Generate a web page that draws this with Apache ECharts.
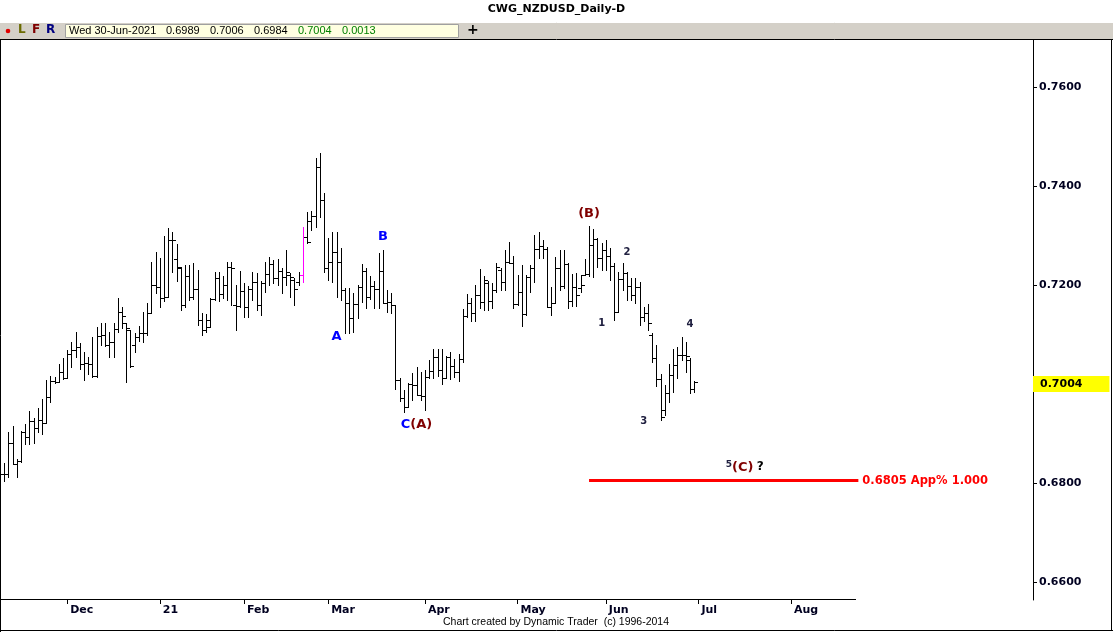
<!DOCTYPE html>
<html>
<head>
<meta charset="utf-8">
<script src="https://cdn.jsdelivr.net/npm/echarts@6.0.0/dist/echarts.min.js"></script>
<style>
html,body{margin:0;padding:0;background:#fff;}
#chart{width:1113px;height:632px;}
</style>
</head>
<body>
<div id="chart"></div>
<script>
// ---------------- DATA ----------------
const firstDate = '2020-11-10';
const holidays = ['2020-12-25', '2021-01-01'];
const totalSlots = 245; // trading-day slots shown on the time axis (incl. empty future)

const opens = [
.6819,.6819,.6881,.6839,.6845,.6903,.6893,.6925,.6911,.6927,
.6921,.6974,.7006,.7004,.7025,.7013,.7061,.7069,.7075,.7041,
.7043,.7041,.7017,.7097,.7099,.7079,.7085,.7111,.7146,.7123,
.7109,.7079,.7095,.7103,.7103,.7144,.7200,.7196,.7174,.7176,
.7291,.7253,.7234,.7160,.7218,.7176,.7192,.7129,.7109,.7129,
.7172,.7214,.7182,.7200,.7236,.7160,.7158,.7188,.7156,.7192,
.7206,.7160,.7204,.7222,.7242,.7214,.7228,.7216,.7220,.7210,
.7206,.7220,.7297,.7329,.7339,.7438,.7372,.7234,.7246,.7267,
.7246,.7190,.7164,.7133,.7162,.7196,.7228,.7176,.7198,.7192,
.7228,.7164,.7166,.7160,.7008,.6972,.6954,.7000,.6998,.6978,
.6976,.7015,.7027,.7055,.7029,.7013,.7055,.7037,.7025,.7051,
.7137,.7164,.7144,.7180,.7166,.7204,.7168,.7190,.7230,.7206,
.7246,.7244,.7162,.7186,.7142,.7216,.7234,.7273,.7279,.7273,
.7156,.7164,.7234,.7198,.7242,.7168,.7196,.7194,.7220,.7222,
.7281,.7293,.7255,.7271,.7259,.7238,.7146,.7212,.7224,.7198,
.7180,.7196,.7135,.7144,.7099,.7053,.7011,.6948,.6982,.7019,
.7039,.7059,.7059,.7049,.6989
];
const highs = [
.6841,.6903,.6915,.6849,.6905,.6919,.6946,.6931,.6952,.6970,
.7008,.7017,.7015,.7041,.7053,.7069,.7085,.7105,.7083,.7065,
.7055,.7095,.7115,.7123,.7123,.7105,.7123,.7174,.7156,.7123,
.7109,.7103,.7117,.7146,.7164,.7246,.7267,.7255,.7299,.7315,
.7307,.7283,.7236,.7240,.7240,.7244,.7230,.7144,.7142,.7174,
.7226,.7226,.7218,.7246,.7246,.7200,.7228,.7204,.7198,.7226,
.7224,.7208,.7246,.7257,.7251,.7253,.7234,.7271,.7224,.7214,
.7226,.7317,.7347,.7349,.7457,.7467,.7386,.7295,.7307,.7307,
.7275,.7194,.7194,.7184,.7200,.7242,.7234,.7218,.7208,.7265,
.7271,.7190,.7184,.7160,.7013,.6988,.7002,.7023,.7035,.7025,
.7029,.7049,.7071,.7071,.7071,.7057,.7065,.7051,.7061,.7152,
.7182,.7174,.7200,.7232,.7218,.7208,.7204,.7244,.7234,.7271,
.7287,.7259,.7220,.7240,.7220,.7240,.7301,.7307,.7291,.7277,
.7196,.7257,.7271,.7271,.7244,.7222,.7224,.7220,.7253,.7319,
.7313,.7295,.7285,.7291,.7275,.7244,.7226,.7244,.7226,.7214,
.7214,.7206,.7156,.7162,.7103,.7079,.7021,.6998,.7041,.7071,
.7075,.7095,.7085,.7053,.7006
];
const lows = [
.6805,.6813,.6839,.6813,.6843,.6879,.6879,.6881,.6903,.6899,
.6921,.6964,.7002,.7004,.7011,.7013,.7035,.7055,.7031,.7008,
.7021,.7015,.7015,.7079,.7077,.7055,.7055,.7105,.7113,.7004,
.7035,.7065,.7087,.7085,.7099,.7144,.7184,.7156,.7168,.7176,
.7226,.7208,.7150,.7156,.7170,.7172,.7119,.7099,.7105,.7115,
.7170,.7168,.7174,.7170,.7160,.7109,.7156,.7135,.7135,.7170,
.7150,.7140,.7186,.7200,.7204,.7200,.7184,.7200,.7176,.7160,
.7200,.7206,.7285,.7311,.7317,.7337,.7226,.7210,.7206,.7176,
.7170,.7103,.7103,.7105,.7133,.7166,.7154,.7172,.7154,.7154,
.7164,.7146,.7144,.6990,.6966,.6944,.6954,.6968,.6978,.6968,
.6948,.7013,.7013,.7017,.7000,.7013,.7011,.7015,.7006,.7045,
.7135,.7127,.7127,.7154,.7150,.7150,.7154,.7186,.7190,.7190,
.7244,.7154,.7160,.7117,.7140,.7186,.7206,.7255,.7255,.7156,
.7140,.7164,.7190,.7194,.7154,.7158,.7158,.7186,.7220,.7218,
.7216,.7236,.7230,.7230,.7210,.7129,.7146,.7190,.7170,.7170,
.7164,.7119,.7127,.7109,.7045,.6996,.6927,.6938,.6964,.6984,
.7013,.7049,.7025,.6982,.6984
];
const closes = [
.6819,.6881,.6839,.6845,.6903,.6893,.6925,.6911,.6927,.6921,
.6974,.7006,.7004,.7025,.7013,.7061,.7069,.7075,.7041,.7043,
.7041,.7017,.7097,.7099,.7079,.7085,.7111,.7146,.7137,.7113,
.7037,.7095,.7103,.7103,.7144,.7200,.7196,.7174,.7176,.7291,
.7291,.7236,.7160,.7218,.7176,.7192,.7129,.7109,.7115,.7172,
.7214,.7182,.7200,.7236,.7234,.7158,.7188,.7156,.7192,.7206,
.7160,.7204,.7222,.7242,.7214,.7228,.7216,.7226,.7216,.7192,
.7220,.7297,.7287,.7339,.7438,.7372,.7234,.7246,.7267,.7246,
.7190,.7164,.7133,.7162,.7196,.7228,.7176,.7198,.7192,.7228,
.7164,.7166,.7160,.7008,.6972,.6954,.7000,.6998,.6978,.6976,
.7015,.7027,.7055,.7029,.7013,.7055,.7037,.7025,.7051,.7137,
.7164,.7144,.7180,.7166,.7210,.7168,.7190,.7236,.7206,.7246,
.7244,.7162,.7186,.7142,.7216,.7234,.7273,.7279,.7273,.7156,
.7164,.7234,.7198,.7242,.7168,.7196,.7180,.7200,.7222,.7281,
.7293,.7255,.7271,.7259,.7238,.7146,.7212,.7224,.7198,.7180,
.7196,.7135,.7144,.7123,.7053,.7011,.6934,.6982,.7019,.7039,
.7059,.7059,.7057,.6990,.7004
];
const highlightedBar = 71; // bar drawn in magenta

const monthLabels = {
  '2020-12': 'Dec', '2021-01': '21', '2021-02': 'Feb', '2021-03': 'Mar',
  '2021-04': 'Apr', '2021-05': 'May', '2021-06': 'Jun', '2021-07': 'Jul', '2021-08': 'Aug'
};
const priceTicks = [0.66, 0.68, 0.70, 0.72, 0.74, 0.76];
const yMin = 0.65636, yMax = 0.76950;

const lastPrice = 0.7004;
const targetPrice = 0.6805;
const targetText = '0.6805 App% 1.000';
const targetFrom = 139, targetTo = 203;

const waveText = ['{b|A}', '{b|B}', '{b|C}{m|(A)}', '{m|(B)}', '{n|1}', '{n|2}', '{n|3}', '{n|4}', '{s|5}{m|(C)} {q|?}'];
const waveIdx = [79, 90, 98, 139, 142, 148, 152, 163, 176];
const wavePrice = [0.7095, 0.7297, 0.6917, 0.7345, 0.7123, 0.7265, 0.6925, 0.7121, 0.6832];

const titleText = 'CWG_NZDUSD_Daily-D';
const infoTexts = ['Wed 30-Jun-2021', '0.6989', '0.7006', '0.6984', '0.7004', '0.0013'];
const footerText = 'Chart created by Dynamic Trader  (c) 1996-2014';

// ---------------- BUILD ----------------
function buildDates() {
  const out = [];
  const p = firstDate.split('-').map(Number);
  const d = new Date(Date.UTC(p[0], p[1] - 1, p[2]));
  while (out.length < totalSlots) {
    const wd = d.getUTCDay();
    const s = d.toISOString().slice(0, 10);
    if (wd !== 0 && wd !== 6 && holidays.indexOf(s) < 0) out.push(s);
    d.setUTCDate(d.getUTCDate() + 1);
  }
  return out;
}
const dates = buildDates();
function isMonthStart(i) {
  if (i <= 0) return false;
  const m = dates[i].slice(0, 7);
  return m !== dates[i - 1].slice(0, 7) && monthLabels[m] !== undefined;
}
const ohlc = opens.map((o, i) => [i, o, highs[i], lows[i], closes[i]]);

const FONT = 'DejaVu Sans';
const chart = echarts.init(document.getElementById('chart'), null, {renderer: 'canvas'});

function renderBar(params, api) {
  const idx = api.value(0);
  const pO = api.coord([idx, api.value(1)]);
  const yH = api.coord([idx, api.value(2)])[1];
  const yL = api.coord([idx, api.value(3)])[1];
  const yC = api.coord([idx, api.value(4)])[1];
  const x = Math.round(pO[0]) + 0.5;
  const r = v => Math.round(v) + 0.5;
  const color = idx === highlightedBar ? '#ff00ff' : '#000000';
  const st = {stroke: color, lineWidth: 1};
  return {
    type: 'group',
    children: [
      {type: 'line', shape: {x1: x, y1: Math.round(yH), x2: x, y2: Math.round(yL) + 1}, style: st},
      {type: 'line', shape: {x1: x - 3.5, y1: r(pO[1]), x2: x, y2: r(pO[1])}, style: st},
      {type: 'line', shape: {x1: x, y1: r(yC), x2: x + 3.5, y2: r(yC)}, style: st}
    ]
  };
}

const infoX = [69, 166, 210, 254, 298, 342];
const infoColors = ['#000', '#000', '#000', '#000', '#008000', '#008000'];

const graphics = [
  {type: 'text', left: 'center', top: 4, style: {text: titleText, font: 'bold 11px "DejaVu Sans"', fill: '#000'}},
  {type: 'rect', shape: {x: 0, y: 22, width: 1113, height: 17}, style: {fill: '#d4d0c8'}},
  {type: 'line', shape: {x1: 0, y1: 22.5, x2: 1113, y2: 22.5}, style: {stroke: '#ffffff'}},
  {type: 'line', shape: {x1: 0, y1: 39.5, x2: 1113, y2: 39.5}, style: {stroke: '#000'}},
  {type: 'circle', shape: {cx: 8, cy: 31, r: 2.3}, style: {fill: '#e00000'}},
  {type: 'text', x: 18, y: 24, style: {text: 'L', font: 'bold 12px "DejaVu Sans"', fill: '#6b6b00'}},
  {type: 'text', x: 32, y: 24, style: {text: 'F', font: 'bold 12px "DejaVu Sans"', fill: '#800000'}},
  {type: 'text', x: 46, y: 24, style: {text: 'R', font: 'bold 12px "DejaVu Sans"', fill: '#000080'}},
  {type: 'rect', shape: {x: 65.5, y: 24.5, width: 393, height: 13}, style: {fill: '#ffffe1', stroke: '#a0a0a0'}},
  {type: 'text', x: 467, y: 23, style: {text: '+', font: 'bold 14px "DejaVu Sans"', fill: '#000'}},
  {type: 'line', shape: {x1: 0, y1: 599.5, x2: 856, y2: 599.5}, style: {stroke: '#000', lineWidth: 1}},
  {type: 'line', shape: {x1: 0.5, y1: 39, x2: 0.5, y2: 632}, style: {stroke: '#000', lineWidth: 1}},
  {type: 'line', shape: {x1: 1111.5, y1: 39, x2: 1111.5, y2: 631}, style: {stroke: '#000', lineWidth: 1}},
  {type: 'line', shape: {x1: 0, y1: 630.5, x2: 1113, y2: 630.5}, style: {stroke: '#000', lineWidth: 1}},
  {type: 'text', x: 556, y: 617, style: {text: footerText, font: '10.5px "Liberation Sans"', fill: '#000', textAlign: 'center'}}
];
infoTexts.forEach((t, i) => {
  graphics.push({type: 'text', x: infoX[i], y: 25, style: {text: t, font: '11px "Liberation Sans"', fill: infoColors[i]}});
});

const option = {
  animation: false,
  backgroundColor: '#ffffff',
  grid: {left: 2, right: 80, top: 40, bottom: 32, containLabel: false},
  xAxis: {
    type: 'category',
    data: dates,
    boundaryGap: true,
    axisLine: {show: false},
    axisTick: {show: true, alignWithLabel: true, interval: (i) => isMonthStart(i), length: 4, lineStyle: {color: '#000', width: 1}},
    axisLabel: {
      interval: (i) => isMonthStart(i),
      formatter: (v) => monthLabels[v.slice(0, 7)] || '',
      align: 'left', padding: [0, 0, 0, 3], margin: 5,
      fontFamily: FONT, fontWeight: 'bold', fontSize: 11, color: '#000020'
    },
    splitLine: {show: false}
  },
  yAxis: {
    type: 'value',
    position: 'right',
    min: yMin, max: yMax,
    axisLine: {show: true, lineStyle: {color: '#000', width: 1}},
    axisTick: {show: true, customValues: priceTicks, length: 4, lineStyle: {color: '#000'}},
    axisLabel: {
      customValues: priceTicks,
      formatter: (v) => v.toFixed(4),
      margin: 6, fontFamily: FONT, fontWeight: 'bold', fontSize: 11, color: '#000020'
    },
    splitLine: {show: false}
  },
  graphic: graphics,
  series: [{
    type: 'custom',
    name: 'NZDUSD',
    renderItem: renderBar,
    data: ohlc,
    encode: {x: 0, y: [1, 2, 3, 4]},
    clip: false,
    markLine: {
      silent: true,
      symbol: ['none', 'none'],
      data: [
        {yAxis: lastPrice, lineStyle: {color: 'rgba(0,0,0,0)', width: 0},
         label: {show: true, position: 'end', distance: 0, formatter: lastPrice.toFixed(4),
                 backgroundColor: '#ffff00', color: '#000', fontFamily: FONT, fontWeight: 'bold', fontSize: 11,
                 padding: [3, 27, 2, 7]}},
        [
          {coord: [targetFrom, targetPrice], lineStyle: {color: '#ff0000', width: 3, type: 'solid'},
           label: {show: true, position: 'end', distance: 4, formatter: targetText, color: '#ff0000',
                   fontFamily: FONT, fontWeight: 'bold', fontSize: 11.5}},
          {coord: [targetTo, targetPrice]}
        ]
      ]
    },
    markPoint: {
      silent: true,
      symbol: 'circle',
      symbolSize: 0,
      data: waveText.map((t, i) => ({
        coord: [waveIdx[i], wavePrice[i]],
        label: {show: true, position: 'inside', formatter: t}
      })),
      label: {
        rich: {
          b: {color: '#0000ff', fontFamily: FONT, fontWeight: 'bold', fontSize: 13},
          m: {color: '#800000', fontFamily: FONT, fontWeight: 'bold', fontSize: 13},
          n: {color: '#202040', fontFamily: FONT, fontWeight: 'bold', fontSize: 10},
          s: {color: '#202040', fontFamily: FONT, fontWeight: 'bold', fontSize: 9, padding: [0, 0, 5, 0]},
          q: {color: '#000000', fontFamily: FONT, fontWeight: 'bold', fontSize: 12}
        }
      }
    }
  }]
};
chart.setOption(option);
</script>
</body>
</html>
